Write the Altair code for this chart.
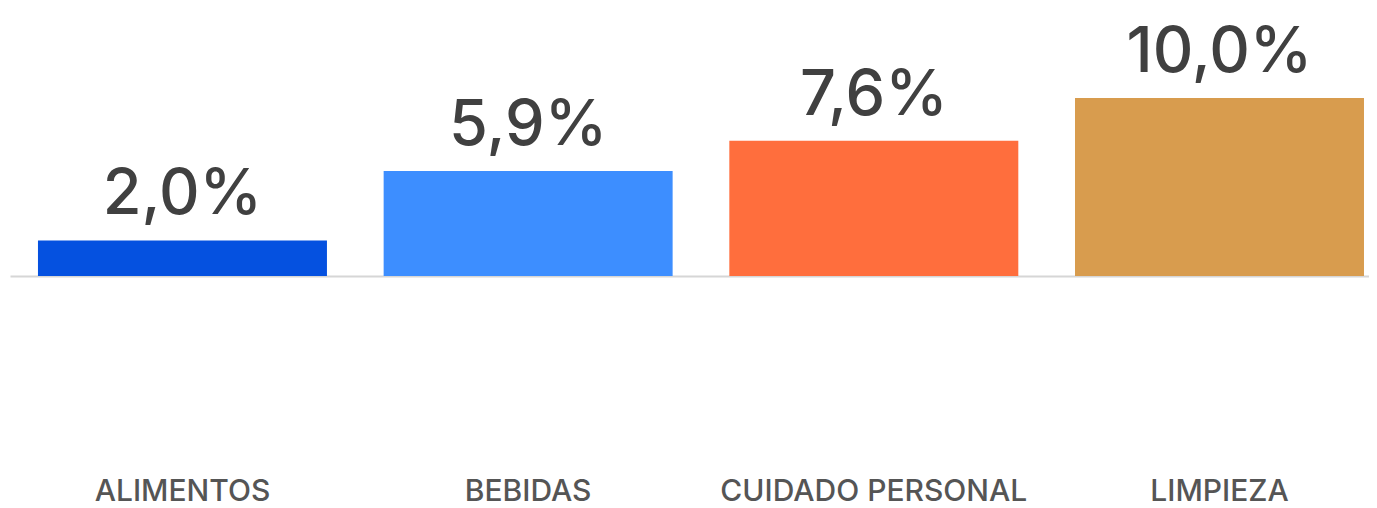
import altair as alt
import pandas as pd

categories = ["ALIMENTOS", "BEBIDAS", "CUIDADO PERSONAL", "LIMPIEZA"]
values = [2.0, 5.9, 7.6, 10.0]
colors = ["#0551E0", "#3D8EFF", "#FF6E3D", "#D89C4E"]
labels = [f"{v:.1f}".replace(".", ",") + "%" for v in values]

df = pd.DataFrame({"cat": categories, "val": values, "label": labels})

x = alt.X(
    "cat:N",
    sort=categories,
    title=None,
    scale=alt.Scale(paddingInner=0.164, paddingOuter=0.0477, align=0.848),
    axis=alt.Axis(
        labelAngle=0,
        ticks=False,
        tickSize=0,
        labelPadding=200,
        labelLimit=0,
        labelFont="Inter",
        labelFontSize=30,
        labelFontWeight=500,
        labelColor="#555555",
        domainColor="#d6d6d6",
        domainWidth=2,
        grid=False,
    ),
)
y = alt.Y("val:Q", scale=alt.Scale(domain=[0, 15.06], nice=False, zero=True), axis=None)

bars = alt.Chart(df).mark_bar().encode(
    x=x,
    y=y,
    color=alt.Color("cat:N", scale=alt.Scale(domain=categories, range=colors), legend=None),
)
text = alt.Chart(df).mark_text(
    baseline="alphabetic", dy=-26, font="Inter", fontSize=63, fontWeight=500, color="#404040"
).encode(x=x, y=y, text="label:N")

chart = (
    alt.layer(bars, text)
    .properties(width=1359, height=268, padding={"left": 2, "top": 0, "right": 0, "bottom": 0})
    .configure_view(stroke=None)
)
chart.save("out.html", embed_options={"renderer": "svg", "actions": False})
